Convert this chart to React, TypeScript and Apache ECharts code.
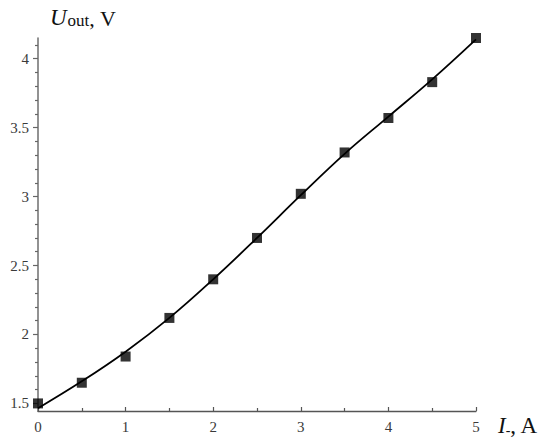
import React, { useEffect, useRef } from "react";
import * as echarts from "echarts";

const xValues = [0, 0.5, 1, 1.5, 2, 2.5, 3, 3.5, 4, 4.5, 5];
const measuredU = [1.5, 1.65, 1.84, 2.12, 2.4, 2.7, 3.02, 3.32, 3.57, 3.83, 4.15];
const fittedU = [1.465, 1.66, 1.875, 2.12, 2.4, 2.7, 3.01, 3.31, 3.58, 3.85, 4.14];
const xTickLabels = ["0", "1", "2", "3", "4", "5"];
const yMajorTicks = [1.5, 2, 2.5, 3, 3.5, 4];
const yMinorTicks = [1.6, 1.7, 1.8, 1.9, 2.1, 2.2, 2.3, 2.4, 2.6, 2.7, 2.8, 2.9, 3.1, 3.2, 3.3, 3.4, 3.6, 3.7, 3.8, 3.9, 4.1];

const SERIF = "'Liberation Serif', 'Times New Roman', serif";

export default function App() {
  const ref = useRef<HTMLDivElement>(null);
  useEffect(() => {
    if (!ref.current) return;
    const chart = echarts.init(ref.current, null, { renderer: "svg" });
    const yMin = 1.445;
    const yMax = 4.15;
    chart.setOption({
      animation: false,
      backgroundColor: "#ffffff",
      grid: { left: 38, right: 74, top: 38, bottom: 35 },
      xAxis: {
        type: "value",
        min: 0,
        max: 5,
        interval: 1,
        axisLine: { show: true, onZero: false, lineStyle: { color: "#555", width: 1.3 } },
        axisTick: { show: true, inside: true, length: 4, lineStyle: { color: "#555", width: 1.2 } },
        minorTick: { show: true, splitNumber: 2, length: 3, lineStyle: { color: "#555", width: 1.2 } },
        splitLine: { show: false },
        minorSplitLine: { show: false },
        axisLabel: {
          margin: 8,
          color: "#3a3a3a",
          fontSize: 15,
          fontFamily: SERIF,
          formatter: (v: number) => xTickLabels[Math.round(v)] ?? "",
        },
      },
      yAxis: [
        {
          type: "value",
          min: yMin,
          max: yMax,
          position: "left",
          axisLine: { show: true, onZero: false, lineStyle: { color: "#777", width: 1.6 } },
          axisTick: {
            show: true,
            inside: false,
            length: 5,
            customValues: yMajorTicks,
            lineStyle: { color: "#666", width: 1.2 },
          },
          splitLine: { show: false },
          axisLabel: {
            margin: 9,
            color: "#3a3a3a",
            fontSize: 15,
            fontFamily: SERIF,
            customValues: yMajorTicks,
            formatter: (v: number) => String(v),
          },
        },
        {
          type: "value",
          min: yMin,
          max: yMax,
          position: "left",
          offset: 0,
          axisLine: { show: false },
          axisTick: {
            show: true,
            inside: false,
            length: 3,
            customValues: yMinorTicks,
            lineStyle: { color: "#666", width: 1.2 },
          },
          splitLine: { show: false },
          axisLabel: { show: false },
        },
      ],
      graphic: [
        {
          type: "text",
          x: 50,
          y: 29,
          style: {
            text: "{a|U}{b|out}{c|, V}",
            textAlign: "left",
            textVerticalAlign: "bottom",
            rich: {
              a: { fontFamily: SERIF, fontStyle: "italic", fontSize: 23, fill: "#111", verticalAlign: "bottom" },
              b: { fontFamily: SERIF, fontSize: 17, fill: "#111", verticalAlign: "bottom", padding: [0, 0, 0, 1] },
              c: { fontFamily: SERIF, fontSize: 22, fill: "#111", verticalAlign: "bottom" },
            },
          },
        },
        {
          type: "text",
          x: 498,
          y: 437,
          style: {
            text: "{a|I}{b|-}{c|, A}",
            textAlign: "left",
            textVerticalAlign: "bottom",
            rich: {
              a: { fontFamily: SERIF, fontStyle: "italic", fontSize: 23, fill: "#111", verticalAlign: "bottom" },
              b: { fontFamily: SERIF, fontSize: 14, fill: "#111", verticalAlign: "bottom" },
              c: { fontFamily: SERIF, fontSize: 23, fill: "#111", verticalAlign: "bottom" },
            },
          },
        },
      ],
      series: [
        {
          type: "line",
          data: xValues.map((x, i) => [x, fittedU[i]]),
          smooth: 0.4,
          showSymbol: false,
          clip: false,
          lineStyle: { color: "#000", width: 1.8 },
          z: 2,
        },
        {
          type: "scatter",
          data: xValues.map((x, i) => [x, measuredU[i]]),
          symbol: "rect",
          symbolSize: 10,
          clip: false,
          itemStyle: { color: "#000" },
          z: 3,
        },
      ],
    });
    return () => chart.dispose();
  }, []);
  return (
    <div
      ref={ref}
      style={{ position: "absolute", left: 0, top: 0, width: 550, height: 446 }}
    />
  );
}
